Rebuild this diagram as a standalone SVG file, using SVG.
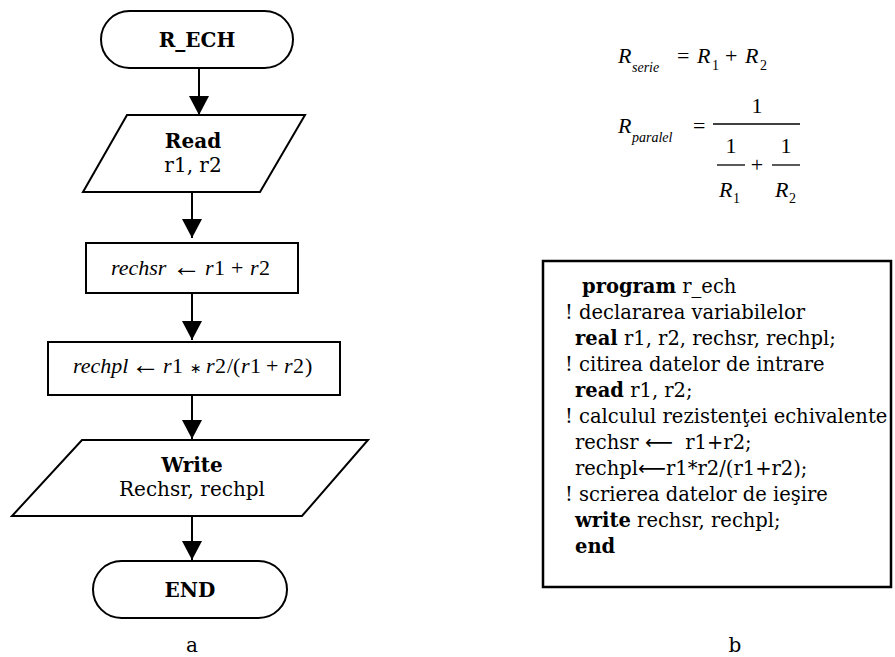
<svg xmlns="http://www.w3.org/2000/svg" width="895" height="657" viewBox="0 0 895 657">
  <style>
    .shape { fill: #fff; stroke: #000; stroke-width: 2; }
    .link { fill: none; stroke: #000; stroke-width: 2; }
    .lbl { font-family: "DejaVu Serif", "Liberation Serif", serif; font-size: 20px; fill: #000; }
    .b { font-weight: bold; }
    .math { font-family: "Liberation Serif", "Times New Roman", serif; font-size: 22px; fill: #000; }
    .it { font-style: italic; }
    .sub { font-size: 14px; }
    .larr { font-size: 29px; }
    .code { font-family: "DejaVu Serif", "Liberation Serif", serif; font-size: 19.5px; fill: #000; }
    .arr { font-family: "DejaVu Sans", sans-serif; }
    .bar { stroke: #000; stroke-width: 1.3; }
  </style>
  <defs>
    <marker id="arrow" markerUnits="userSpaceOnUse" markerWidth="20" markerHeight="20" refX="19" refY="10" orient="auto">
      <path d="M0,0 L19,10 L0,20 Z" fill="#000"/>
    </marker>
  </defs>

  <rect width="895" height="657" fill="#fff"/>

  <!-- flowchart (a) -->
  <g id="connectors">
    <path class="link" d="M199,68 V115" marker-end="url(#arrow)"/>
    <path class="link" d="M192,192 V238" marker-end="url(#arrow)"/>
    <path class="link" d="M192,293 V340" marker-end="url(#arrow)"/>
    <path class="link" d="M192,395 V439" marker-end="url(#arrow)"/>
    <path class="link" d="M192,516 V560" marker-end="url(#arrow)"/>
  </g>

  <g id="start">
    <rect class="shape" x="101" y="11" width="192" height="57" rx="28.5" ry="28.5"/>
    <text class="lbl b" x="197" y="47" text-anchor="middle">R_ECH</text>
  </g>

  <g id="read">
    <polygon class="shape" points="127,115 305,115 260,192 83,192"/>
    <text class="lbl b" x="193" y="148" text-anchor="middle">Read</text>
    <text class="lbl" x="193" y="172" text-anchor="middle">r1, r2</text>
  </g>

  <g id="serie">
    <rect class="shape" x="86" y="243" width="212" height="50"/>
    <text class="math"><tspan class="it" x="111" y="275">rechsr</tspan><tspan class="larr" x="172" y="276">←</tspan><tspan class="it" x="205" y="275">r</tspan><tspan x="214">1</tspan><tspan x="231">+</tspan><tspan class="it" x="250">r</tspan><tspan x="259">2</tspan></text>
  </g>

  <g id="paralel">
    <rect class="shape" x="48" y="342" width="292" height="53"/>
    <text class="math"><tspan class="it" x="73" y="373">rechpl</tspan><tspan class="larr" x="131" y="374">←</tspan><tspan class="it" x="163" y="373">r</tspan><tspan x="172">1</tspan><tspan x="190" font-family="DejaVu Sans, sans-serif" font-size="14">∗</tspan><tspan class="it" x="206">r</tspan><tspan x="215">2</tspan><tspan x="227">/(</tspan><tspan class="it" x="241">r</tspan><tspan x="250">1</tspan><tspan x="266">+</tspan><tspan class="it" x="284">r</tspan><tspan x="293">2</tspan><tspan x="305">)</tspan></text>
  </g>

  <g id="write">
    <polygon class="shape" points="82,440 368,440 302,516 12,516"/>
    <text class="lbl b" x="192" y="472" text-anchor="middle">Write</text>
    <text class="lbl" x="192" y="496" text-anchor="middle">Rechsr, rechpl</text>
  </g>

  <g id="end">
    <rect class="shape" x="93" y="561" width="194" height="57" rx="28.5" ry="28.5"/>
    <text class="lbl b" x="190" y="597" text-anchor="middle">END</text>
  </g>

  <text class="lbl" x="192" y="652" text-anchor="middle">a</text>

  <!-- formulas (b) -->
  <g id="formula-serie">
    <text class="math"><tspan class="it" x="618" y="63">R</tspan><tspan class="it sub" x="632" y="72">serie</tspan><tspan x="677" y="63">=</tspan><tspan class="it" x="697" y="63">R</tspan><tspan class="sub" x="712" y="70">1</tspan><tspan x="725" y="63">+</tspan><tspan class="it" x="745" y="63">R</tspan><tspan class="sub" x="760" y="70">2</tspan></text>
  </g>

  <g id="formula-paralel">
    <text class="math"><tspan class="it" x="618" y="133">R</tspan><tspan class="it sub" x="632" y="142">paralel</tspan><tspan x="693" y="133">=</tspan></text>
    <line class="bar" x1="713" y1="124" x2="800" y2="124"/>
    <text class="math" x="757" y="113" text-anchor="middle">1</text>
    <text class="math" x="731" y="153" text-anchor="middle">1</text>
    <line class="bar" x1="717" y1="165" x2="745" y2="165"/>
    <text class="math"><tspan class="it" x="719" y="197">R</tspan><tspan class="sub" x="733" y="203">1</tspan></text>
    <text class="math" x="757" y="172" text-anchor="middle">+</text>
    <text class="math" x="786" y="153" text-anchor="middle">1</text>
    <line class="bar" x1="772" y1="165" x2="800" y2="165"/>
    <text class="math"><tspan class="it" x="775" y="197">R</tspan><tspan class="sub" x="789" y="203">2</tspan></text>
  </g>

  <!-- program listing -->
  <g id="program">
    <rect x="543" y="261" width="348" height="326" fill="#fff" stroke="#000" stroke-width="2.5"/>
    <text class="code" x="582" y="293"><tspan class="b">program</tspan> r_ech</text>
    <text class="code" x="565" y="319">! declararea variabilelor</text>
    <text class="code" x="575" y="345"><tspan class="b">real</tspan> r1, r2, rechsr, rechpl;</text>
    <text class="code" x="565" y="371">! citirea datelor de intrare</text>
    <text class="code" x="575" y="397"><tspan class="b">read</tspan> r1, r2;</text>
    <text class="code" x="565" y="423">! calculul rezistenţei echivalente</text>
    <text class="code" x="575" y="449" xml:space="preserve">rechsr <tspan class="arr">⟵</tspan>  r1+r2;</text>
    <text class="code" x="575" y="475">rechpl<tspan class="arr">⟵</tspan>r1*r2/(r1+r2);</text>
    <text class="code" x="565" y="501">! scrierea datelor de ieşire</text>
    <text class="code" x="575" y="527"><tspan class="b">write</tspan> rechsr, rechpl;</text>
    <text class="code b" x="575" y="553">end</text>
  </g>

  <text class="lbl" x="735" y="652" text-anchor="middle">b</text>
</svg>
